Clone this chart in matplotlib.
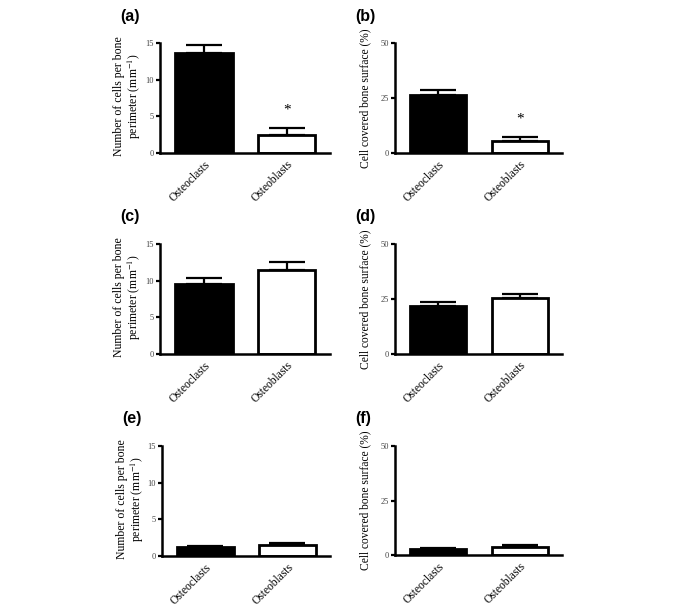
import numpy as np
import matplotlib
matplotlib.use("Agg")
import matplotlib.pyplot as plt

plt.rcParams['font.family'] = ['Liberation Serif', 'DejaVu Serif']
plt.rcParams['mathtext.fontset'] = 'stix'

categories = ['Osteoclasts', 'Osteoblasts']
panel_labels = ['(a)', '(b)', '(c)', '(d)', '(e)', '(f)']

# mean and upper error (SEM) per panel
means = [
    [13.7, 2.5],
    [26.5, 5.5],
    [9.6, 11.5],
    [22.0, 25.3],
    [1.2, 1.5],
    [2.7, 3.8],
]
errs = [
    [1.0, 0.9],
    [2.0, 1.8],
    [0.7, 1.0],
    [1.8, 1.9],
    [0.2, 0.3],
    [0.5, 0.8],
]
stars = [5.9, 15.5, None, None, None, None]  # y of significance mark over osteoblasts

ylims = [15, 50, 15, 50, 15, 50]
yticks_cnt = [[0, 5, 10, 15], [0, 25, 50]]
ylabels = ['Number of cells per bone\nperimeter (mm$^{-1}$)', 'Cell covered bone surface (%)']

W, H = 685, 610
fig = plt.figure(figsize=(W / 100, H / 100), dpi=100)

# axes boxes in pixels: left, right, top, bottom
boxes = [
    (160, 330, 43, 153),
    (395, 562, 43, 153),
    (160, 330, 244, 354),
    (395, 562, 244, 354),
    (162, 330, 446, 556),
    (395, 562, 446, 555),
]

x = np.arange(2)
for i, (l, r, t, b) in enumerate(boxes):
    ax = fig.add_axes([l / W, 1 - b / H, (r - l) / W, (b - t) / H])
    col = i % 2
    ax.bar(x, means[i], width=0.69, color=['black', 'white'], edgecolor='black',
           linewidth=2.0, zorder=2)
    ax.errorbar(x, means[i], yerr=[[0, 0], errs[i]], fmt='none', ecolor='black',
                elinewidth=1.6, capsize=13, capthick=1.6, zorder=1)
    if stars[i] is not None:
        ax.text(1, stars[i], '*', ha='center', va='center', fontsize=11)
    ax.set_ylim(0, ylims[i])
    ax.set_xlim(-0.53, 1.52)
    ax.set_yticks(yticks_cnt[col])
    ax.set_xticks(x)
    ax.set_xticklabels(categories, rotation=45, ha='right', rotation_mode='anchor',
                       fontsize=8.3)
    ax.tick_params(axis='x', length=0, pad=4)
    ax.tick_params(axis='y', length=3, width=1.6, labelsize=6, labelcolor='#444444',
                   direction='out', pad=1.5)
    for s in ['top', 'right']:
        ax.spines[s].set_visible(False)
    for s in ['left', 'bottom']:
        ax.spines[s].set_linewidth(1.8)
    if col == 0:
        ax.set_ylabel(ylabels[col], fontsize=8.5, linespacing=1.05)
        ax.yaxis.set_label_coords(-0.098, 0.52)
    else:
        ax.set_ylabel(ylabels[col], fontsize=8.3)
        ax.yaxis.set_label_coords(-0.14, 0.5)
    fig.text((l - 40) / W, 1 - (t - 27) / H, panel_labels[i], fontsize=11.5,
             fontweight='bold', family='Liberation Sans', va='center', ha='left')

fig.savefig('out.png', dpi=100)
